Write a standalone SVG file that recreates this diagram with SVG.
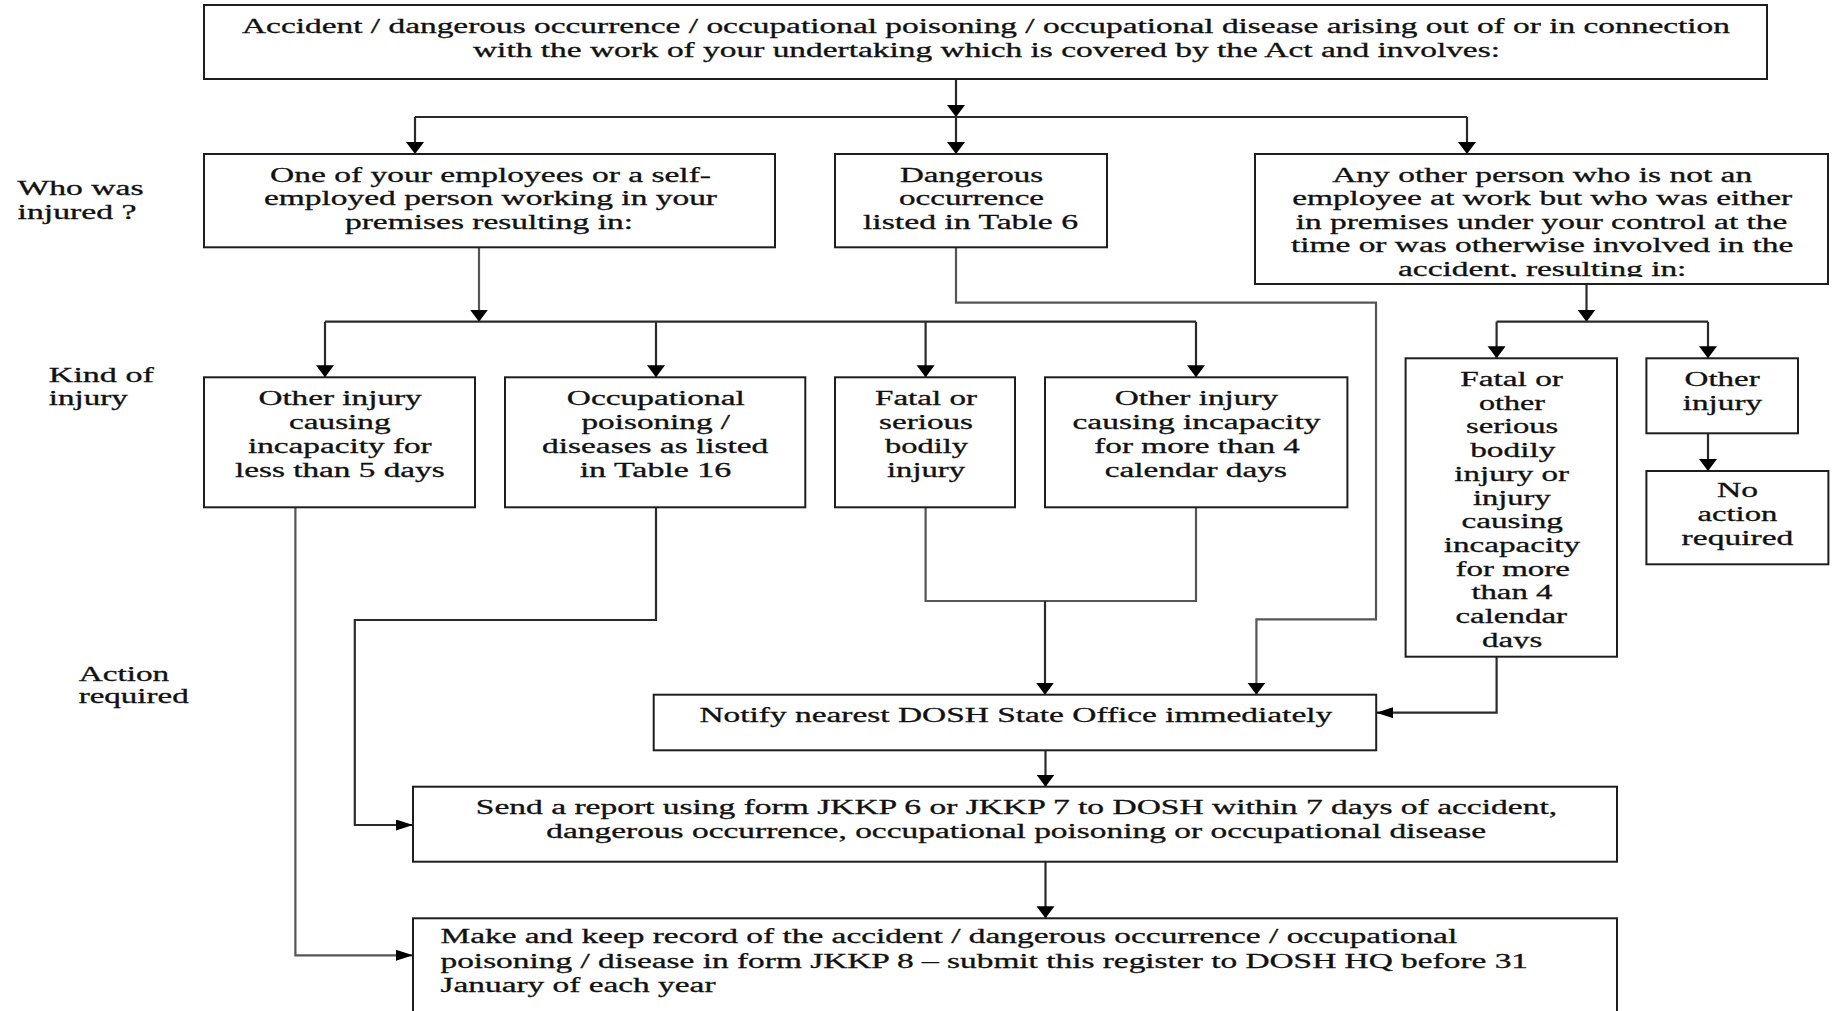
<svg xmlns="http://www.w3.org/2000/svg" width="1842" height="1011" viewBox="0 0 1842 1011">
<style>
  .box { fill: #ffffff; stroke: #1e1e1e; stroke-width: 2; }
  .t { font-family: "Liberation Serif", "Times New Roman", serif; font-size: 20px; fill: #111111; stroke: #111111; stroke-width: 0.3; }
  .c { fill: none; stroke: #2a2a2a; stroke-width: 2.2; }
  .cg { fill: none; stroke: #555555; stroke-width: 2.2; }
</style>
<defs>
  <marker id="av" markerUnits="userSpaceOnUse" markerWidth="14" markerHeight="20" refX="12" refY="9" orient="auto">
    <path d="M0,0 L12,9 L0,18 z" fill="#000000"/>
  </marker>
  <marker id="ah" markerUnits="userSpaceOnUse" markerWidth="18" markerHeight="12" refX="17" refY="5.5" orient="auto">
    <path d="M0,0 L17,5.5 L0,11 z" fill="#000000"/>
  </marker>
  <clipPath id="clipOther"><rect x="1256" y="155" width="571" height="122"/></clipPath>
  <clipPath id="clipFatal2"><rect x="1406" y="359" width="210" height="289.5"/></clipPath>
</defs>
<rect x="0" y="0" width="1842" height="1011" fill="#ffffff"/>

<!-- side labels -->
<g id="label-who">
  <text class="t" x="17.6" y="195" textLength="126" lengthAdjust="spacingAndGlyphs">Who was</text>
  <text class="t" x="17.6" y="219" textLength="119" lengthAdjust="spacingAndGlyphs">injured ?</text>
</g>
<g id="label-kind">
  <text class="t" x="48.8" y="381.7" textLength="105" lengthAdjust="spacingAndGlyphs">Kind of</text>
  <text class="t" x="48.8" y="405" textLength="79" lengthAdjust="spacingAndGlyphs">injury</text>
</g>
<g id="label-action">
  <text class="t" x="78.7" y="680.5" textLength="90.5" lengthAdjust="spacingAndGlyphs">Action</text>
  <text class="t" x="78.7" y="703" textLength="110" lengthAdjust="spacingAndGlyphs">required</text>
</g>

<!-- connectors -->
<g id="connectors">
  <path class="c" d="M956,79 V117" marker-end="url(#av)"/>
  <path class="c" d="M415,117 H1467"/>
  <path class="c" d="M415,117 V154" marker-end="url(#av)"/>
  <path class="c" d="M956,117 V154" marker-end="url(#av)"/>
  <path class="c" d="M1467,117 V154" marker-end="url(#av)"/>

  <path class="cg" d="M479,247.3 V321.7" marker-end="url(#av)"/>
  <path class="c" d="M325,321.7 H1196"/>
  <path class="c" d="M325,321.7 V377.3" marker-end="url(#av)"/>
  <path class="c" d="M656,321.7 V377.3" marker-end="url(#av)"/>
  <path class="c" d="M925.6,321.7 V377.3" marker-end="url(#av)"/>
  <path class="c" d="M1196,321.7 V377.3" marker-end="url(#av)"/>

  <path class="c" d="M1586.5,284 V321.7" marker-end="url(#av)"/>
  <path class="c" d="M1496.6,321.7 H1708"/>
  <path class="c" d="M1496.6,321.7 V358.3" marker-end="url(#av)"/>
  <path class="c" d="M1708,321.7 V358.3" marker-end="url(#av)"/>
  <path class="c" d="M1708,433.3 V471" marker-end="url(#av)"/>

  <path class="cg" d="M295.4,507.3 V955.3 H413" marker-end="url(#ah)"/>
  <path class="c" d="M656,507.3 V620 H354.8 V825 H413" marker-end="url(#ah)"/>
  <path class="cg" d="M925.6,507.3 V601 H1196 V507.3"/>
  <path class="c" d="M1045,601 V694.7" marker-end="url(#av)"/>
  <path class="cg" d="M956,247.3 V302.7 H1376 V619.3 H1256.4 V694.7" marker-end="url(#av)"/>
  <path class="c" d="M1496.6,656.7 V712.7 H1376.2" marker-end="url(#ah)"/>
  <path class="c" d="M1045.5,750.3 V786.7" marker-end="url(#av)"/>
  <path class="c" d="M1045.5,861.7 V918.3" marker-end="url(#av)"/>
</g>

<!-- nodes -->
<g id="node-top">
  <rect class="box" x="204" y="5" width="1563" height="74"/>
  <text class="t" x="242" y="32.5" textLength="1488" lengthAdjust="spacingAndGlyphs">Accident / dangerous occurrence / occupational poisoning / occupational disease arising out of or in connection</text>
  <text class="t" x="473" y="56.5" textLength="1027" lengthAdjust="spacingAndGlyphs">with the work of your undertaking which is covered by the Act and involves:</text>
</g>

<g id="node-employee">
  <rect class="box" x="204" y="154" width="571" height="93.3"/>
  <text class="t" x="270" y="181.7" textLength="441" lengthAdjust="spacingAndGlyphs">One of your employees or a self-</text>
  <text class="t" x="264" y="204.5" textLength="453" lengthAdjust="spacingAndGlyphs">employed person working in your</text>
  <text class="t" x="345" y="228.5" textLength="288" lengthAdjust="spacingAndGlyphs">premises resulting in:</text>
</g>

<g id="node-dangerous">
  <rect class="box" x="835" y="154" width="272" height="93.3"/>
  <text class="t" x="900" y="181.7" textLength="143" lengthAdjust="spacingAndGlyphs">Dangerous</text>
  <text class="t" x="899" y="204.5" textLength="145" lengthAdjust="spacingAndGlyphs">occurrence</text>
  <text class="t" x="863" y="228.5" textLength="215" lengthAdjust="spacingAndGlyphs">listed in Table 6</text>
</g>

<g id="node-other-person">
  <rect class="box" x="1255" y="154" width="573" height="130"/>
  <g clip-path="url(#clipOther)">
    <text class="t" x="1332.2" y="181.7" textLength="420" lengthAdjust="spacingAndGlyphs">Any other person who is not an</text>
    <text class="t" x="1292.2" y="204.5" textLength="500" lengthAdjust="spacingAndGlyphs">employee at work but who was either</text>
    <text class="t" x="1295.7" y="228.8" textLength="491.7" lengthAdjust="spacingAndGlyphs">in premises under your control at the</text>
    <text class="t" x="1291" y="252.3" textLength="502.3" lengthAdjust="spacingAndGlyphs">time or was otherwise involved in the</text>
    <text class="t" x="1398" y="275.5" textLength="288.4" lengthAdjust="spacingAndGlyphs">accident, resulting in:</text>
  </g>
</g>

<g id="node-lt5">
  <rect class="box" x="204" y="377.3" width="271" height="130"/>
  <text class="t" x="258.4" y="405" textLength="163.3" lengthAdjust="spacingAndGlyphs">Other injury</text>
  <text class="t" x="289" y="428.5" textLength="101.6" lengthAdjust="spacingAndGlyphs">causing</text>
  <text class="t" x="247.9" y="452.5" textLength="183.8" lengthAdjust="spacingAndGlyphs">incapacity for</text>
  <text class="t" x="235" y="476.5" textLength="209.6" lengthAdjust="spacingAndGlyphs">less than 5 days</text>
</g>

<g id="node-occupational">
  <rect class="box" x="505" y="377.3" width="300.3" height="130"/>
  <text class="t" x="566.8" y="405" textLength="178" lengthAdjust="spacingAndGlyphs">Occupational</text>
  <text class="t" x="581.5" y="428.5" textLength="148.6" lengthAdjust="spacingAndGlyphs">poisoning /</text>
  <text class="t" x="542.1" y="452.5" textLength="226.2" lengthAdjust="spacingAndGlyphs">diseases as listed</text>
  <text class="t" x="579.7" y="476.5" textLength="151.6" lengthAdjust="spacingAndGlyphs">in Table 16</text>
</g>

<g id="node-fatal">
  <rect class="box" x="835" y="377.3" width="180" height="130"/>
  <text class="t" x="875" y="405" textLength="102" lengthAdjust="spacingAndGlyphs">Fatal or</text>
  <text class="t" x="879" y="428.5" textLength="94" lengthAdjust="spacingAndGlyphs">serious</text>
  <text class="t" x="885" y="452.5" textLength="83" lengthAdjust="spacingAndGlyphs">bodily</text>
  <text class="t" x="887" y="476.5" textLength="78" lengthAdjust="spacingAndGlyphs">injury</text>
</g>

<g id="node-gt4">
  <rect class="box" x="1045" y="377.3" width="302.4" height="130"/>
  <text class="t" x="1114.8" y="405" textLength="163.3" lengthAdjust="spacingAndGlyphs">Other injury</text>
  <text class="t" x="1072.5" y="428.5" textLength="247.9" lengthAdjust="spacingAndGlyphs">causing incapacity</text>
  <text class="t" x="1094.3" y="452.5" textLength="205.6" lengthAdjust="spacingAndGlyphs">for more than 4</text>
  <text class="t" x="1104.8" y="476.5" textLength="182.1" lengthAdjust="spacingAndGlyphs">calendar days</text>
</g>

<g id="node-fatal-other">
  <rect class="box" x="1405.6" y="358.3" width="211.4" height="298.4"/>
  <g clip-path="url(#clipFatal2)">
    <text class="t" x="1460.2" y="386" textLength="102.8" lengthAdjust="spacingAndGlyphs">Fatal or</text>
    <text class="t" x="1479" y="409.7" textLength="66" lengthAdjust="spacingAndGlyphs">other</text>
    <text class="t" x="1466" y="433.4" textLength="92.3" lengthAdjust="spacingAndGlyphs">serious</text>
    <text class="t" x="1470.2" y="457.1" textLength="85.2" lengthAdjust="spacingAndGlyphs">bodily</text>
    <text class="t" x="1454.3" y="480.8" textLength="114.6" lengthAdjust="spacingAndGlyphs">injury or</text>
    <text class="t" x="1473" y="504.5" textLength="77.7" lengthAdjust="spacingAndGlyphs">injury</text>
    <text class="t" x="1461.4" y="528.2" textLength="101.6" lengthAdjust="spacingAndGlyphs">causing</text>
    <text class="t" x="1443.8" y="551.9" textLength="136.2" lengthAdjust="spacingAndGlyphs">incapacity</text>
    <text class="t" x="1455.5" y="575.6" textLength="114.5" lengthAdjust="spacingAndGlyphs">for more</text>
    <text class="t" x="1471.4" y="599.3" textLength="81" lengthAdjust="spacingAndGlyphs">than 4</text>
    <text class="t" x="1455.5" y="623" textLength="111.5" lengthAdjust="spacingAndGlyphs">calendar</text>
    <text class="t" x="1482" y="646.7" textLength="60.4" lengthAdjust="spacingAndGlyphs">days</text>
  </g>
</g>

<g id="node-other-injury">
  <rect class="box" x="1646.4" y="358.3" width="151.6" height="75"/>
  <text class="t" x="1684.6" y="386" textLength="75.2" lengthAdjust="spacingAndGlyphs">Other</text>
  <text class="t" x="1682.8" y="410" textLength="79.3" lengthAdjust="spacingAndGlyphs">injury</text>
</g>

<g id="node-no-action">
  <rect class="box" x="1646.4" y="471" width="182" height="93.3"/>
  <text class="t" x="1716.9" y="496.7" textLength="41.1" lengthAdjust="spacingAndGlyphs">No</text>
  <text class="t" x="1697.5" y="521" textLength="79.9" lengthAdjust="spacingAndGlyphs">action</text>
  <text class="t" x="1681.6" y="545" textLength="111.7" lengthAdjust="spacingAndGlyphs">required</text>
</g>

<g id="node-notify">
  <rect class="box" x="653.7" y="694.7" width="722.5" height="55.6"/>
  <text class="t" x="699.5" y="721.7" textLength="632.7" lengthAdjust="spacingAndGlyphs">Notify nearest DOSH State Office immediately</text>
</g>

<g id="node-send">
  <rect class="box" x="413" y="786.7" width="1204" height="75"/>
  <text class="t" x="475.8" y="814.3" textLength="1081.3" lengthAdjust="spacingAndGlyphs">Send a report using form JKKP 6 or JKKP 7 to DOSH within 7 days of accident,</text>
  <text class="t" x="546.3" y="838.3" textLength="939.7" lengthAdjust="spacingAndGlyphs">dangerous occurrence, occupational poisoning or occupational disease</text>
</g>

<g id="node-record">
  <rect class="box" x="413" y="918.3" width="1204" height="110"/>
  <text class="t" x="440.5" y="943.3" textLength="1016.7" lengthAdjust="spacingAndGlyphs">Make and keep record of the accident / dangerous occurrence / occupational</text>
  <text class="t" x="440.5" y="968.3" textLength="1087.5" lengthAdjust="spacingAndGlyphs">poisoning / disease in form JKKP 8 – submit this register to DOSH HQ before 31</text>
  <text class="t" x="440.5" y="991.7" textLength="275" lengthAdjust="spacingAndGlyphs">January of each year</text>
</g>
</svg>
